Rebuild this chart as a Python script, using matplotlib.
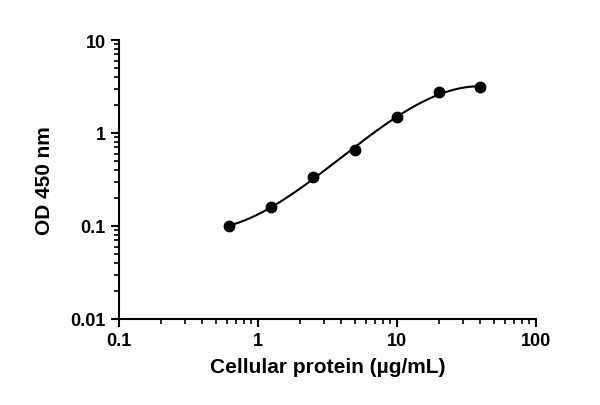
import numpy as np
import matplotlib
matplotlib.use("Agg")
import matplotlib.pyplot as plt
from matplotlib.ticker import LogLocator, FixedLocator, FixedFormatter, NullFormatter

conc = [0.625, 1.25, 2.5, 5, 10, 20, 40]
od = [0.10, 0.16, 0.34, 0.65, 1.48, 2.75, 3.1]
xticks = [0.1, 1, 10, 100]
xlabels = ["0.1", "1", "10", "100"]
yticks = [0.01, 0.1, 1, 10]
ylabels = ["0.01", "0.1", "1", "10"]

plt.rcParams["font.family"] = "Liberation Sans"
fig = plt.figure(figsize=(6, 4.06), dpi=100)
ax = fig.add_axes([0.198, 0.212, 0.695, 0.687])

# smooth fit through data in log-log space
lx, ly = np.log10(conc), np.log10(od)
coef = np.polyfit(lx, ly, 3)
xs = np.linspace(lx[0], lx[-1], 200)
ax.plot(10**xs, 10**np.polyval(coef, xs), color="black", lw=1.5)
ax.plot(conc, od, "o", color="black", ms=7.5)

ax.set_xscale("log"); ax.set_yscale("log")
ax.set_xlim(0.1, 100); ax.set_ylim(0.01, 10)
ax.xaxis.set_major_locator(FixedLocator(xticks))
ax.xaxis.set_major_formatter(FixedFormatter(xlabels))
ax.yaxis.set_major_locator(FixedLocator(yticks))
ax.yaxis.set_major_formatter(FixedFormatter(ylabels))
for a in (ax.xaxis, ax.yaxis):
    a.set_minor_locator(LogLocator(base=10, subs=np.arange(2, 10)))
    a.set_minor_formatter(NullFormatter())
for s in ["top", "right"]:
    ax.spines[s].set_visible(False)
for s in ["left", "bottom"]:
    ax.spines[s].set_linewidth(1.5)
ax.tick_params(which="major", length=6, width=1.5, labelsize=13, direction="out")
ax.tick_params(which="minor", length=3.5, width=1.2, direction="out")
for t in ax.get_xticklabels() + ax.get_yticklabels():
    t.set_fontweight("bold")
ax.set_xlabel("Cellular protein (µg/mL)", fontsize=15, fontweight="bold", labelpad=6)
ax.set_ylabel("OD 450 nm", fontsize=15, fontweight="bold", labelpad=12)
fig.savefig("out.png", dpi=100)
